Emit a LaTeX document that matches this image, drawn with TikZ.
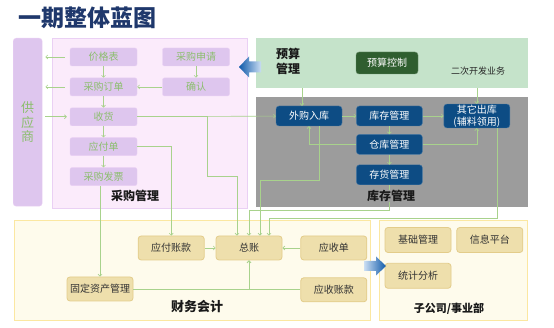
\documentclass[tikz,border=0pt]{standalone}
\usepackage{fontspec}
\setmainfont{Noto Sans CJK SC}
\usetikzlibrary{positioning,arrows.meta}

\definecolor{titleblue}{RGB}{31,56,108}
\definecolor{purfill}{RGB}{222,198,238}
\definecolor{purregion}{RGB}{251,235,251}
\definecolor{purline}{RGB}{234,208,244}
\definecolor{leafgreen}{RGB}{140,190,110}
\definecolor{linkgreen}{RGB}{168,210,140}
\definecolor{budgetbg}{RGB}{197,227,202}
\definecolor{budgetbox}{RGB}{47,94,47}
\definecolor{stockbg}{RGB}{156,156,156}
\definecolor{stockbox}{RGB}{13,76,132}
\definecolor{financebg}{RGB}{254,251,236}
\definecolor{financeline}{RGB}{251,231,161}
\definecolor{tanfill}{RGB}{238,223,172}
\definecolor{tanline}{RGB}{227,204,138}
\definecolor{bigblue}{RGB}{16,90,170}
\definecolor{paleblue}{RGB}{150,190,230}

\begin{document}
\begin{tikzpicture}[
    x=1pt, y=-1pt,
    node distance=11.5pt and 14pt,
    every node/.style={font=\fontsize{10}{12}\selectfont, inner sep=1pt},
    region/.style={anchor=north west, inner sep=0pt},
    pbox/.style={draw=purline, fill=purfill, rounded corners=2pt, minimum width=67pt, minimum height=18pt, text=leafgreen},
    sbox/.style={draw=stockbox!75!white, fill=stockbox, rounded corners=3pt, minimum width=66pt, minimum height=20pt, text=white},
    fbox/.style={draw=tanline, fill=tanfill, rounded corners=3pt, minimum width=66pt, minimum height=24pt, text=black!80, line width=0.8pt},
    tag/.style={font=\fontsize{12}{14}\selectfont\bfseries, text=black!90},
    link/.style={-{Straight Barb[length=2pt,width=4pt]}, draw=linkgreen, line width=0.6pt},
  ]
  \useasboundingbox (0,0) rectangle (554,328);

  % Title
  \node[font=\fontsize{23}{25}\selectfont\bfseries, text=titleblue, anchor=west] (title) at (17,18) {一期整体蓝图};

  % Regions
  \node[region, fill=purfill, draw=purline, rounded corners=3pt, minimum width=29pt, minimum height=168pt,
        text=leafgreen, align=center, font=\fontsize{13}{14.5}\selectfont] (gys) at (13,38) {供\\应\\商};
  \node[region, fill=purregion, draw=purline, line width=0.8pt, minimum width=195pt, minimum height=170pt] (caigou) at (52,38) {};
  \node[region, fill=budgetbg, minimum width=272pt, minimum height=50pt] (yusuan) at (256,38) {};
  \node[region, fill=stockbg, minimum width=272pt, minimum height=110pt] (kucun) at (256,97) {};
  \node[region, fill=financebg, draw=financeline, line width=1pt, minimum width=356pt, minimum height=100pt] (caiwu) at (14,220) {};
  \node[region, fill=financebg, draw=financeline, line width=1pt, minimum width=148pt, minimum height=100pt] (zigongsi) at (379,220) {};

  % Purchase boxes
  \node[pbox] (jiage) at (103.5,57) {价格表};
  \node[pbox, below=of jiage] (dingdan) {采购订单};
  \node[pbox, below=of dingdan] (shouhuo) {收货};
  \node[pbox, below=of shouhuo] (yingfudan) {应付单};
  \node[pbox, below=of yingfudan] (fapiao) {采购发票};
  \node[pbox] (shenqing) at (196,57) {采购申请};
  \node[pbox, below=of shenqing] (queren) {确认};

  % Budget
  \node[draw=budgetbox!70!white, fill=budgetbox, rounded corners=3pt, minimum width=62pt, minimum height=22pt, text=white] (yskz) at (387,63) {预算控制};
  \node[font=\fontsize{9}{11}\selectfont, text=black!85] (erci) at (478,71) {二次开发业务};

  % Stock boxes
  \node[sbox] (waigou) at (309,116) {外购入库};
  \node[sbox, right=of waigou] (kcgl) {库存管理};
  \node[sbox, right=21pt of kcgl, minimum height=21pt, align=center, font=\fontsize{10}{11.5}\selectfont] (qita) {其它出库\\(辅料领用)};
  \node[sbox, below=8pt of kcgl] (ckgl) {仓库管理};
  \node[sbox, below=10pt of ckgl] (chgl) {存货管理};

  % Finance boxes
  \node[fbox] (zongzhang) at (249,248) {总账};
  \node[fbox, left=11pt of zongzhang] (yfzk) {应付账款};
  \node[fbox, right=18pt of zongzhang] (yingshou) {应收单};
  \node[fbox, below=17pt of yingshou] (yszk) {应收账款};
  \node[fbox] (gdzc) at (100,289) {固定资产管理};

  % Subsidiary boxes
  \node[fbox, minimum height=25pt] (jichu) at (418,240) {基础管理};
  \node[fbox, minimum height=25pt, right=5pt of jichu] (xinxi) {信息平台};
  \node[fbox, minimum height=25pt, below=10pt of jichu] (tongji) {统计分析};

  % Big arrows
  \shade[left color=bigblue, right color=paleblue!50] (239,67) -- (249,56.5) -- (249,61.5) -- (261,61.5)
    -- (261,72.5) -- (249,72.5) -- (249,77.5) -- cycle;
  \shade[left color=paleblue!50, right color=bigblue] (386,266) -- (376,256.5) -- (376,261) -- (364,261)
    -- (364,271) -- (376,271) -- (376,275.5) -- cycle;

  % Purchase links
  \draw[link, shorten <=5pt, shorten >=3pt] (jiage.west) -- (jiage.west -| gys.east);
  \draw[link, shorten <=5pt, shorten >=3pt] (dingdan.west) -- (dingdan.west -| gys.east);
  \draw[link, shorten <=3pt, shorten >=3pt] (gys.east |- shouhuo.west) -- (shouhuo.west);
  \draw[link] (jiage) -- (dingdan);
  \draw[link] (dingdan) -- (shouhuo);
  \draw[link] (shouhuo) -- (yingfudan);
  \draw[link] (yingfudan) -- (fapiao);
  \draw[link] (shenqing) -- (queren);
  \draw[link] (queren) -- (dingdan);

  % Purchase to stock and finance
  \draw[link] (shouhuo) -- (waigou);
  \draw[link] (shouhuo.east) -| ++(70,60) -| ([xshift=-12pt]zongzhang.north);
  \draw[link] (yingfudan.east) -| (yfzk.north);
  \draw[link] (gdzc.north |- fapiao.south) -- (gdzc.north);

  % Stock links
  \draw[link] (waigou) -- (kcgl);
  \draw[link] (kcgl) -- (qita);
  \draw[link] (kcgl) -- (ckgl);
  \draw[link] (ckgl) -- (chgl);
  \draw[link] (ckgl.west) -| (waigou.south);
  \draw[link] (ckgl.east) -| (qita.south);
  \draw[link] ([xshift=-7pt]waigou.north |- yusuan.south) -- ([xshift=-7pt]waigou.north);
  \draw[link] (qita.north |- yusuan.south) -- (qita.north);
  \draw[link] ([xshift=10pt]waigou.south) -- ++(0,54) -| ([xshift=11pt]zongzhang.north);
  \draw[link] (chgl.south) -- ++(0,25) -| (zongzhang.north);
  \draw[link] ([xshift=20pt]qita.south) -- ++(0,90) -| ([xshift=20pt]zongzhang.north);

  % Finance links
  \draw[link] (yfzk) -- (zongzhang);
  \draw[link] (yingshou) -- (zongzhang);
  \draw[link] (gdzc.east) -| (zongzhang.south);
  \draw[link] (yszk.west) -| (zongzhang.south);

  % Region labels
  \node[tag] (cglabel) at (135,196) {采购管理};
  \node[tag, fill=stockbg, inner sep=0pt] (kclabel) at (391,196) {库存管理};
  \node[tag, align=center, font=\fontsize{12}{15}\selectfont\bfseries] (yslabel) at (288,61) {预算\\管理};
  \node[tag, font=\fontsize{13}{15}\selectfont\bfseries] (cwlabel) at (197,307) {财务会计};
  \node[tag, font=\fontsize{11}{13}\selectfont\bfseries] (zglabel) at (449,309) {子公司/事业部};
\end{tikzpicture}
\end{document}
